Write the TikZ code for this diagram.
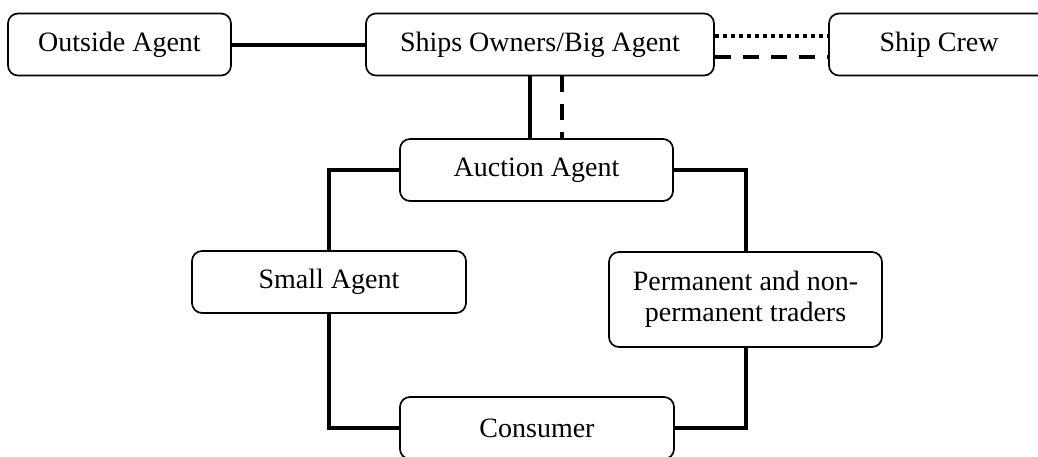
\documentclass[tikz,border=0pt]{standalone}
\usepackage{fontspec}
\setmainfont{Liberation Serif}
\begin{document}
\begin{tikzpicture}[x=0.5pt,y=-0.5pt,
  box/.style={draw=black,line width=0.85pt,rounded corners=5pt,fill=white,
    font=\fontsize{14}{15.5}\selectfont,align=center,inner sep=0pt,
    minimum width=#1*0.5pt,minimum height=31pt},
  tall/.style={minimum height=47.5pt},
  conn/.style={line width=2pt},
  dashconn/.style={line width=2pt,dash pattern=on 8pt off 6pt},
  dotconn/.style={line width=2pt,dash pattern=on 2pt off 2pt}]
\useasboundingbox (0,0) rectangle (1038,456);
\clip (0,0) rectangle (1038,456);
\node[box=223] (outside) at (119.5,44.5) {Outside Agent};
\node[box=348] (ships) at (540,44.5) {Ships Owners/Big Agent};
\node[box=220] (crew) at (939,44.5) {Ship Crew};
\node[box=273] (auction) at (536.5,170) {Auction Agent};
\node[box=274] (small) at (329,282) {Small Agent};
\node[box=273,tall] (perm) at (745.5,299.5) {Permanent and non-\\permanent traders};
\node[box=274] (consumer) at (537,428) {Consumer};
\draw[conn] (outside.east) -- (ships.west);
\draw[dotconn] ([yshift=4.25pt]ships.east) -- ([yshift=4.25pt]crew.west);
\draw[dashconn] ([yshift=-6.25pt]ships.east) -- ([yshift=-6.25pt]crew.west);
\draw[conn] ([xshift=-5pt]ships.south) -- ([xshift=-5pt]ships.south |- auction.north);
\draw[dashconn] ([xshift=11pt]ships.south) -- ([xshift=11pt]ships.south |- auction.north);
\draw[conn] (auction.west) -| (small.north);
\draw[conn] (small.south) |- (consumer.west);
\draw[conn] (auction.east) -| (perm.north);
\draw[conn] (perm.south) |- (consumer.east);
\end{tikzpicture}
\end{document}
